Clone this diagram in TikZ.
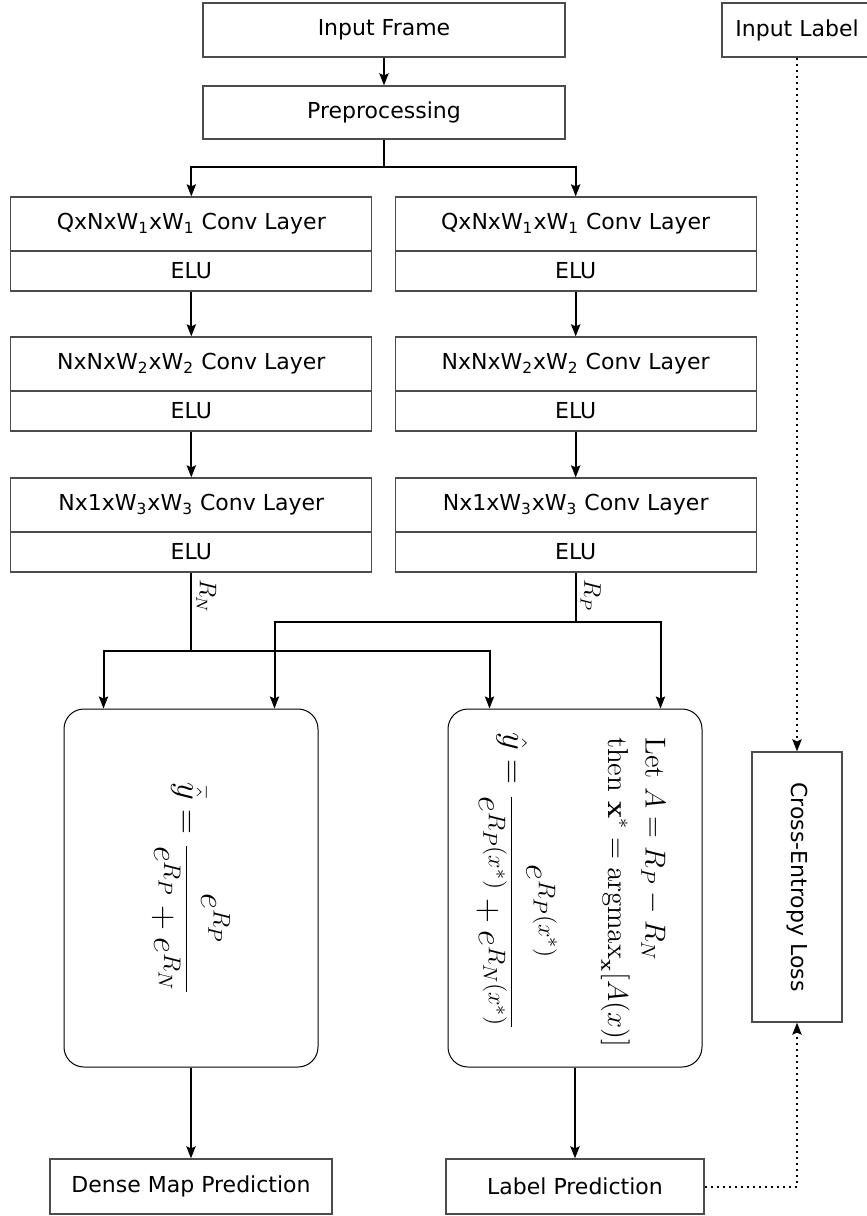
\documentclass[tikz,border=0pt]{standalone}
\usepackage{amsmath,amssymb}
\usepackage[no-math]{fontspec}
\setmainfont{DejaVu Sans}
\usetikzlibrary{arrows.meta,calc}

\tikzset{
  iobox/.style={draw=black!70,line width=0.6pt,inner sep=0pt,minimum height=27pt},
  convbox/.style={draw=black!70,line width=0.6pt,inner sep=0pt,minimum width=180.5pt,minimum height=27pt},
  elubox/.style={draw=black!70,line width=0.6pt,inner sep=0pt,minimum width=180.5pt,minimum height=20pt},
  fnbox/.style={draw=black,line width=0.5pt,rounded corners=10pt,minimum width=127pt,minimum height=179pt},
  fnline/.style={rotate=-90,anchor=base west,inner sep=0pt},
  arr/.style={line width=1pt,-{Stealth[length=6pt,width=4.6pt,inset=1pt]}},
  dotarr/.style={line width=1pt,dotted,-{Stealth[length=6pt,width=4.6pt,inset=1pt]}}
}

\begin{document}
\begin{tikzpicture}[x=0.5pt,y=-0.5pt,font=\fontsize{11}{13}\selectfont]
        \useasboundingbox (0,0) rectangle (867,1216);
        \node[iobox,minimum width=181pt] (frame) at (384,30) {Input Frame};
        \node[iobox,minimum width=75pt] (inlabel) at (797,30) {Input Label};
        \node[iobox,minimum width=181pt,minimum height=26.5pt] (prep) at (384,112.5) {Preprocessing};
        \coordinate (split) at (384,167);
        % left branch
        \node[convbox] (convLa) at (191.3,224) {QxNxW\textsubscript{1}xW\textsubscript{1} Conv Layer};
        \node[elubox] (eluLa) at (191.3,271) {ELU};
        \node[convbox] (convLb) at (191.3,364) {NxNxW\textsubscript{2}xW\textsubscript{2} Conv Layer};
        \node[elubox] (eluLb) at (191.3,411) {ELU};
        \node[convbox] (convLc) at (191.3,505) {Nx1xW\textsubscript{3}xW\textsubscript{3} Conv Layer};
        \node[elubox] (eluLc) at (191.3,552) {ELU};
        % right branch
        \node[convbox] (convRa) at (575.7,224) {QxNxW\textsubscript{1}xW\textsubscript{1} Conv Layer};
        \node[elubox] (eluRa) at (575.7,271) {ELU};
        \node[convbox] (convRb) at (575.7,364) {NxNxW\textsubscript{2}xW\textsubscript{2} Conv Layer};
        \node[elubox] (eluRb) at (575.7,411) {ELU};
        \node[convbox] (convRc) at (575.7,505) {Nx1xW\textsubscript{3}xW\textsubscript{3} Conv Layer};
        \node[elubox] (eluRc) at (575.7,552) {ELU};
        \coordinate (jN) at (191.3,651);
        \coordinate (jP) at (575.7,622);
        % output functions
        \node[fnbox] (densefn) at (191,888) {\rotatebox{-90}{\LARGE$\displaystyle\bar{\hat{y}} = \frac{e^{R_P}}{e^{R_P}+e^{R_N}}$}};
        \node[fnbox] (labelfn) at (575,888) {};
        \node[fnline] (letline) at (645.7,737) {\Large$\mathrm{Let}\ A = R_P - R_N$};
        \node[fnline] (thenline) at (608,737) {\Large$\mathrm{then}\ \mathbf{x}^* = \mathrm{argmax}_{\mathbf{x}}[A(x)]$};
        \node[fnline] (yhatline) at (503,732) {\LARGE$\displaystyle\hat{y} = \frac{e^{R_P(x^*)}}{e^{R_P(x^*)}+e^{R_N(x^*)}}$};
        \node[iobox,minimum width=45pt,minimum height=135pt] (celoss) at (797,887) {\rotatebox{-90}{Cross-Entropy Loss}};
        \node[iobox,minimum width=141pt,minimum height=27.5pt] (dense) at (191,1186.5) {Dense Map Prediction};
        \node[iobox,minimum width=129pt,minimum height=27.5pt] (labelpred) at (575,1186.5) {Label Prediction};
        % connectors
        \draw[arr] (frame) -- (prep);
        \draw[line width=1pt] (prep.south) -- (split);
        \draw[arr] (split) -| (convLa.north);
        \draw[arr] (split) -| (convRa.north);
        \draw[arr] (eluLa) -- (convLb);
        \draw[arr] (eluLb) -- (convLc);
        \draw[arr] (eluRa) -- (convRb);
        \draw[arr] (eluRb) -- (convRc);
        \draw[line width=1pt] (eluLc.south) -- node[pos=0.3,rotate=-90,anchor=south,inner sep=2pt]{\large$R_N$} (jN);
        \draw[line width=1pt] (eluRc.south) -- node[pos=0.46,rotate=-90,anchor=south,inner sep=2pt]{\large$R_P$} (jP);
        \draw[arr] (jN) -| ([xshift=20pt]densefn.north west);
        \draw[arr] (jN) -| ([xshift=21pt]labelfn.north west);
        \draw[arr] (jP) -| ([xshift=-22pt]densefn.north east);
        \draw[arr] (jP) -| ([xshift=-21pt]labelfn.north east);
        \draw[arr] (densefn) -- (dense);
        \draw[arr] (labelfn) -- (labelpred);
        \draw[dotarr] (inlabel) -- (celoss);
        \draw[dotarr] (labelpred.east) -| (celoss.south);
        \end{tikzpicture}
\end{document}
